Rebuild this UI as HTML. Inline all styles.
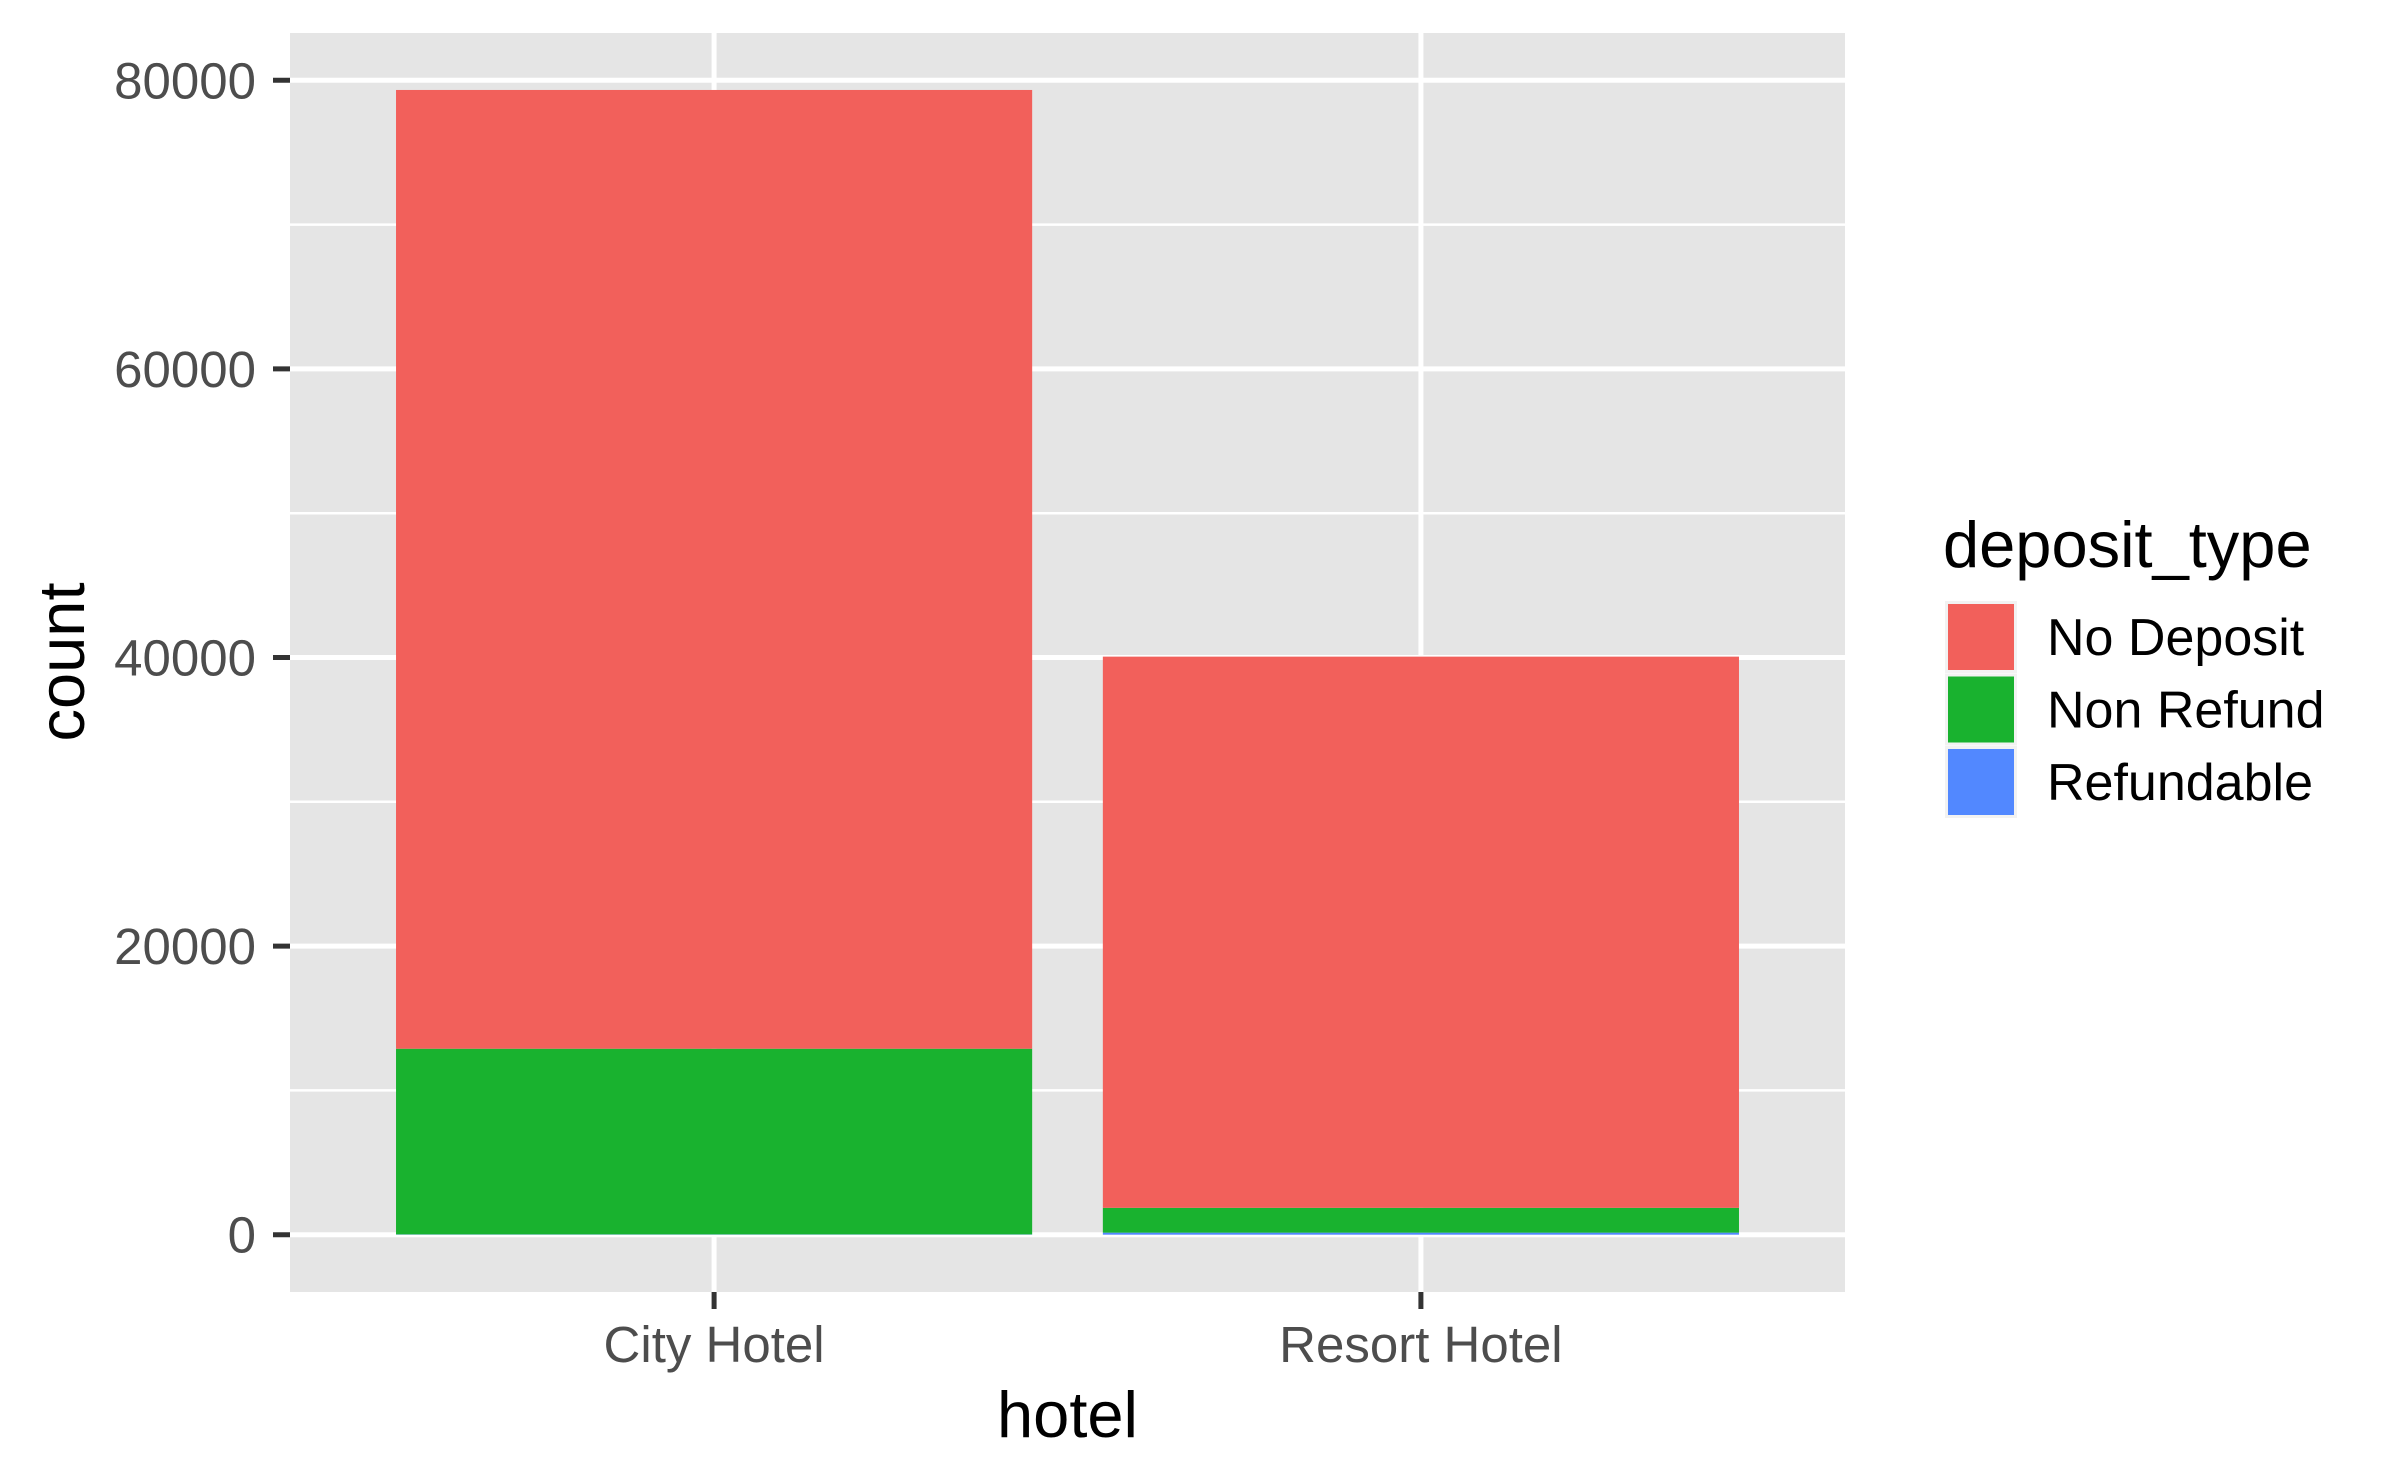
<!DOCTYPE html>
<html><head><meta charset="utf-8"><style>
body{margin:0;background:#fff;}
svg{display:block;font-family:"Liberation Sans",Arial,sans-serif;}
</style></head><body>
<svg id="chart" width="2400" height="1483" xmlns="http://www.w3.org/2000/svg"></svg>
<script>
const categories = ["City Hotel", "Resort Hotel"];
const seriesNames = ["No Deposit", "Non Refund", "Refundable"];
const noDeposit = [66442, 38199];
const nonRefund = [12868, 1719];
const refundable = [20, 142];
const yTicks = [0, 20000, 40000, 60000, 80000];
const yMinor = [10000, 30000, 50000, 70000];
const fills = ["#F2605B", "#19B22F", "#5288FF"];

const NS = "http://www.w3.org/2000/svg";
const svg = document.getElementById("chart");
const P = {l:290, r:1845, t:33, b:1292};
const y0px = 1234.7, y80px = 80.3;
function y(v){ return y0px + (y80px - y0px) * v / 80000; }
const unit = (P.r - P.l) / 2.2;
function x(i){ return P.l + (i + 1 - 0.4) * unit; }
function el(tag, attrs, parent){
  const e = document.createElementNS(NS, tag);
  for (const k in attrs) e.setAttribute(k, attrs[k]);
  (parent || svg).appendChild(e);
  return e;
}

const panel = el("rect", {x:P.l, y:P.t, width:P.r-P.l, height:P.b-P.t, fill:"#E5E5E5"});



yMinor.forEach(v => {
  const g = el("line", {x1:P.l, x2:P.r, y1:y(v), y2:y(v), stroke:"#fff", "stroke-width":2.5});
  
  
});
yTicks.forEach(v => {
  const g = el("line", {x1:P.l, x2:P.r, y1:y(v), y2:y(v), stroke:"#fff", "stroke-width":5});
  
  
  const t = el("line", {x1:P.l-17, x2:P.l, y1:y(v), y2:y(v), stroke:"#333", "stroke-width":5});
  
  
  const lb = el("text", {x:256, y:y(v)+18, "text-anchor":"end", "font-size":51, fill:"#4D4D4D"});
  lb.textContent = v;
  
  
});
categories.forEach((c, i) => {
  const g = el("line", {x1:x(i), x2:x(i), y1:P.t, y2:P.b, stroke:"#fff", "stroke-width":5});
  
  
  const t = el("line", {x1:x(i), x2:x(i), y1:P.b, y2:P.b+17, stroke:"#333", "stroke-width":5});
  
  
  const lb = el("text", {x:x(i), y:1362, "text-anchor":"middle", "font-size":51, fill:"#4D4D4D"});
  lb.textContent = c;
  
  
});

const bw = 0.9 * unit;
categories.forEach((c, i) => {
  const stack = [refundable[i], nonRefund[i], noDeposit[i]];
  const fl = [fills[2], fills[1], fills[0]];
  let base = 0;
  stack.forEach((v, k) => {
    const r = el("rect", {x:x(i)-bw/2, y:y(base+v), width:bw, height:y(base)-y(base+v), fill:fl[k]});
    
    
    base += v;
  });
});

const yt = el("text", {x:0, y:0, "text-anchor":"middle", "font-size":65, fill:"#000", transform:"translate(84,662) rotate(-90)"});
yt.textContent = "count";


const xt = el("text", {x:(P.l+P.r)/2, y:1437, "text-anchor":"middle", "font-size":65, fill:"#000"});
xt.textContent = "hotel";



const lt = el("text", {x:1943, y:567, "font-size":65, fill:"#000"});
lt.textContent = "deposit_type";


seriesNames.forEach((s, k) => {
  const top = 601 + k * 72.5;
  const bg = el("rect", {x:1945, y:top, width:72, height:72, fill:"#F2F2F2"});
  
  
  const sw = el("rect", {x:1948, y:top+3, width:66, height:66, fill:fills[k]});
  
  
  const lb = el("text", {x:2047, y:top+54, "font-size":52, fill:"#000"});
  lb.textContent = s;
  
  
});
</script>
</body></html>
